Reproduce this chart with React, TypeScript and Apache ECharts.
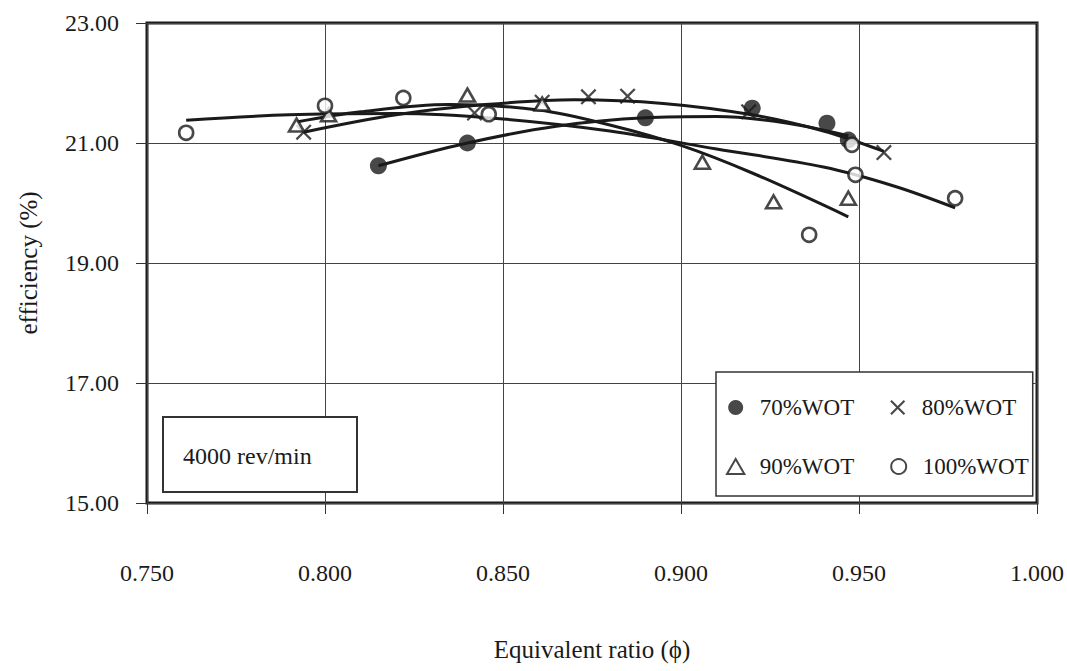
import React, { useEffect, useRef } from 'react';
import * as echarts from 'echarts';

const FONT = 'Liberation Serif';
const INK = '#1a1a1a';

// Legend / series names
const seriesNames = ['70%WOT', '80%WOT', '90%WOT', '100%WOT'];

// Measured points (equivalent ratio, efficiency %)
const phi70 = [0.815, 0.840, 0.890, 0.920, 0.941, 0.947];
const eff70 = [20.62, 21.0, 21.42, 21.58, 21.33, 21.05];

const phi80 = [0.794, 0.842, 0.861, 0.874, 0.885, 0.919, 0.957];
const eff80 = [21.18, 21.5, 21.68, 21.77, 21.78, 21.52, 20.84];

const phi90 = [0.792, 0.801, 0.840, 0.861, 0.906, 0.926, 0.947];
const eff90 = [21.3, 21.47, 21.8, 21.65, 20.68, 20.02, 20.08];

const phi100 = [0.761, 0.800, 0.822, 0.846, 0.936, 0.948, 0.949, 0.977];
const eff100 = [21.17, 21.62, 21.75, 21.48, 19.47, 20.97, 20.47, 20.08];

// Trend curves
const trendPhi70 = [0.815, 0.84, 0.865, 0.89, 0.91, 0.93, 0.947];
const trendEff70 = [20.62, 21.0, 21.28, 21.42, 21.44, 21.33, 21.12];

const trendPhi80 = [0.794, 0.82, 0.845, 0.87, 0.895, 0.92, 0.94, 0.957];
const trendEff80 = [21.18, 21.47, 21.64, 21.72, 21.66, 21.47, 21.2, 20.86];

const trendPhi90 = [0.792, 0.81, 0.835, 0.86, 0.88, 0.9, 0.92, 0.947];
const trendEff90 = [21.35, 21.52, 21.64, 21.55, 21.3, 20.96, 20.5, 19.77];

const trendPhi100 = [0.761, 0.79, 0.82, 0.85, 0.88, 0.91, 0.94, 0.96, 0.977];
const trendEff100 = [21.38, 21.47, 21.49, 21.4, 21.2, 20.9, 20.6, 20.28, 19.92];

// Axis settings
const xMin = 0.75, xMax = 1.0, xStep = 0.05;
const yMin = 15, yMax = 23, yStep = 2;
const xTitle = 'Equivalent ratio (\u03D5)';
const yTitle = 'efficiency (%)';
const noteText = '4000 rev/min';

const zip = (a: number[], b: number[]) => a.map((v, i) => [v, b[i]]);

const CROSS = 'path://M2,0L10,8L18,0L20,2L12,10L20,18L18,20L10,12L2,20L0,18L8,10L0,2Z';
const TRIANGLE = 'path://M10,0L20,17.3L0,17.3Z';

export default function App() {
  const ref = useRef<HTMLDivElement>(null);
  useEffect(() => {
    if (!ref.current) return;
    const chart = echarts.init(ref.current, undefined, { renderer: 'svg' });

    const trend = (name: string, xs: number[], ys: number[]) => ({
      name,
      type: 'line',
      data: zip(xs, ys),
      smooth: 0.35,
      symbol: 'none',
      showSymbol: false,
      lineStyle: { color: INK, width: 3 },
      z: 2,
      silent: true,
    });

    const option: any = {
      animation: false,
      backgroundColor: '#fff',
      textStyle: { fontFamily: FONT },
      grid: {
        left: 147,
        right: 30,
        top: 23,
        bottom: 168,
        show: true,
        borderColor: INK,
        borderWidth: 3,
        backgroundColor: 'transparent',
      },
      xAxis: {
        type: 'value',
        min: xMin,
        max: xMax,
        interval: xStep,
        name: xTitle,
        nameLocation: 'middle',
        nameGap: 134,
        nameTextStyle: { fontFamily: FONT, fontSize: 25, color: INK },
        axisLine: { show: false },
        axisTick: { show: true, inside: false, length: 11, lineStyle: { color: '#333', width: 1 } },
        axisLabel: {
          margin: 58,
          fontFamily: FONT,
          fontSize: 24,
          color: INK,
          formatter: (v: number) => v.toFixed(3),
        },
        splitLine: { show: true, lineStyle: { color: '#444', width: 1 } },
      },
      yAxis: {
        type: 'value',
        min: yMin,
        max: yMax,
        interval: yStep,
        name: yTitle,
        nameLocation: 'middle',
        nameGap: 106,
        nameTextStyle: { fontFamily: FONT, fontSize: 25, color: INK },
        axisLine: { show: false },
        axisTick: { show: true, inside: false, length: 11, lineStyle: { color: '#333', width: 1 } },
        axisLabel: {
          margin: 28,
          fontFamily: FONT,
          fontSize: 24,
          color: INK,
          formatter: (v: number) => v.toFixed(2),
        },
        splitLine: { show: true, lineStyle: { color: '#444', width: 1 } },
      },
      legend: {
        data: seriesNames,
        selectedMode: false,
        orient: 'horizontal',
        left: 716,
        top: 372,
        width: 340,
        itemWidth: 30,
        itemHeight: 15,
        itemGap: 36,
        symbolKeepAspect: true,
        padding: [24, 4, 18, 10],
        borderColor: '#333',
        borderWidth: 1.5,
        backgroundColor: '#fff',
        z: 10,
        textStyle: { fontFamily: FONT, fontSize: 23, color: INK, width: 88, padding: [0, 0, 0, 4] },
      },
      graphic: [
        {
          type: 'group',
          z: 10,
          children: [
            {
              type: 'rect',
              shape: { x: 163, y: 417, width: 194, height: 75 },
              style: { fill: '#fff', stroke: '#333', lineWidth: 2 },
              z: 10,
            },
            {
              type: 'text',
              x: 183,
              y: 456,
              style: {
                text: noteText,
                fontFamily: FONT,
                fontSize: 24,
                fill: INK,
                verticalAlign: 'middle',
                align: 'left',
              },
              z: 11,
            },
          ],
        },
      ],
      series: [
        trend('trend70', trendPhi70, trendEff70),
        trend('trend80', trendPhi80, trendEff80),
        trend('trend90', trendPhi90, trendEff90),
        trend('trend100', trendPhi100, trendEff100),
        {
          name: seriesNames[0],
          type: 'scatter',
          data: zip(phi70, eff70),
          symbol: 'circle',
          symbolSize: 17,
          symbolKeepAspect: true,
          itemStyle: { color: INK },
          z: 5,
        },
        {
          name: seriesNames[1],
          type: 'scatter',
          data: zip(phi80, eff80),
          symbol: CROSS,
          symbolSize: 16,
          symbolKeepAspect: true,
          itemStyle: { color: INK },
          z: 5,
        },
        {
          name: seriesNames[2],
          type: 'scatter',
          data: zip(phi90, eff90),
          symbol: TRIANGLE,
          symbolSize: 15,
          symbolKeepAspect: true,
          itemStyle: { color: '#fff', borderColor: INK, borderWidth: 2.6 },
          z: 5,
        },
        {
          name: seriesNames[3],
          type: 'scatter',
          data: zip(phi100, eff100),
          symbol: 'circle',
          symbolSize: 14,
          symbolKeepAspect: true,
          itemStyle: { color: '#fff', borderColor: INK, borderWidth: 2.6 },
          z: 5,
        },
      ],
    };

    chart.setOption(option);
    return () => chart.dispose();
  }, []);

  return (
    <div
      ref={ref}
      style={{ position: 'absolute', left: 0, top: 0, width: 1067, height: 671, background: '#fff' }}
    />
  );
}
